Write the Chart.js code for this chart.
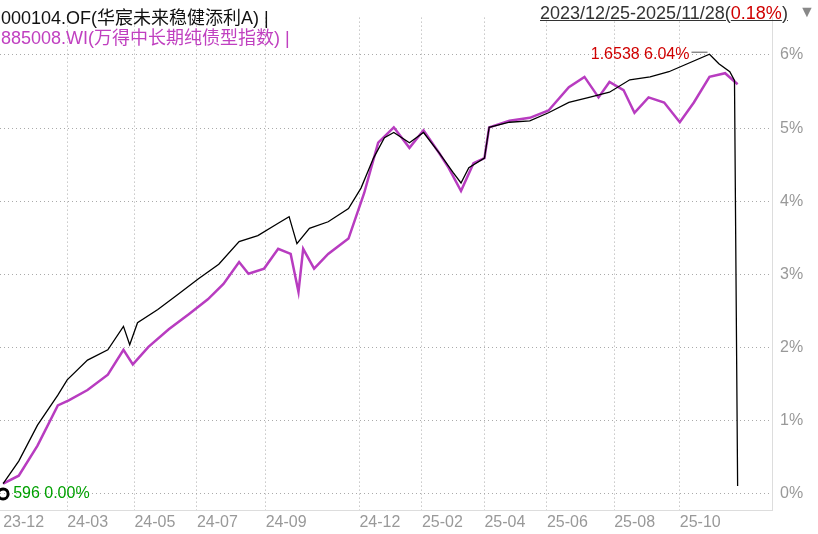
<!DOCTYPE html>
<html>
<head>
<meta charset="utf-8">
<script src="https://cdn.jsdelivr.net/npm/chart.js@4"></script>
<style>
  body { margin: 0; background: #fff; font-family: "Liberation Sans", "Noto Sans CJK SC", sans-serif; }
  #wrap { position: relative; width: 818px; height: 534px; }
  .lbl { position: absolute; font-size: 18px; white-space: nowrap; }
</style>
</head>
<body>
<div id="wrap">
  <canvas id="c" width="818" height="534"></canvas>
  <div class="lbl" style="left:1px;top:3px;color:#111">000104.OF(华宸未来稳健添利A) |</div>
  <div class="lbl" style="left:1px;top:23px;color:#c040c0">885008.WI(万得中长期纯债型指数) |</div>
  <div class="lbl" style="left:540px;top:3px;color:#333;text-decoration:underline">2023/12/25-2025/11/28(<span style="color:#d00000">0.18%</span>)</div>
  <div class="lbl" style="left:799px;top:3px;color:#888;font-size:16px">▼</div>
</div>
<script>
// x = trading day index from 2023-12-25
const tickIdx = [0, 41, 84, 124, 168, 228, 268, 308, 348, 391, 433];
const tickLabels = ["23-12", "24-03", "24-05", "24-07", "24-09", "24-12", "25-02", "25-04", "25-06", "25-08", "25-10"];

const fundIdx = [0, 10, 22, 35, 41, 54, 67, 77, 81, 86, 99, 112, 125, 138, 151, 163, 176, 183, 188, 196, 208, 221, 229, 237, 244, 250, 260, 269, 279, 288, 293, 298, 308, 311, 324, 337, 349, 362, 375, 388, 401, 414, 426, 452, 458, 465, 468, 470];
const fundVals = [0.14, 0.45, 0.94, 1.35, 1.56, 1.83, 1.97, 2.29, 2.04, 2.34, 2.52, 2.73, 2.94, 3.14, 3.45, 3.53, 3.70, 3.79, 3.42, 3.63, 3.72, 3.90, 4.18, 4.59, 4.87, 4.94, 4.80, 4.94, 4.66, 4.39, 4.25, 4.46, 4.59, 5.01, 5.08, 5.10, 5.21, 5.35, 5.42, 5.49, 5.66, 5.70, 5.77, 6.01, 5.88, 5.77, 5.65, 0.11];

const indexIdx = [0, 10, 22, 35, 42, 54, 67, 77, 83, 93, 106, 119, 131, 141, 151, 157, 167, 176, 184, 189, 192, 199, 208, 221, 231, 240, 250, 260, 269, 279, 285, 293, 301, 308, 311, 324, 337, 349, 362, 372, 381, 388, 397, 404, 413, 423, 433, 442, 452, 462, 470];
const indexVals = [0.14, 0.25, 0.66, 1.21, 1.28, 1.42, 1.63, 1.97, 1.77, 2.01, 2.25, 2.46, 2.66, 2.87, 3.17, 3.01, 3.08, 3.35, 3.28, 2.76, 3.35, 3.08, 3.28, 3.49, 4.11, 4.80, 5.01, 4.73, 4.97, 4.66, 4.46, 4.14, 4.52, 4.59, 5.01, 5.10, 5.14, 5.24, 5.56, 5.70, 5.42, 5.63, 5.52, 5.21, 5.42, 5.35, 5.08, 5.35, 5.70, 5.75, 5.60];

const toPts = (xs, ys) => xs.map((x, i) => ({ x: x, y: ys[i] }));

const marks = {
  id: "marks",
  afterDatasetsDraw(chart) {
    const { ctx, scales: { x, y } } = chart;
    ctx.save();
    ctx.font = "16px 'Liberation Sans', sans-serif";
    ctx.textBaseline = "middle";
    const mx = x.getPixelForValue(452), my = y.getPixelForValue(6.01);
    ctx.fillStyle = "#d00000";
    ctx.textAlign = "right";
    ctx.fillText("1.6538 6.04%", mx - 20, my);
    ctx.strokeStyle = "#555";
    ctx.lineWidth = 1;
    ctx.beginPath();
    ctx.moveTo(mx - 18, my - 2);
    ctx.lineTo(mx - 2, my - 2);
    ctx.stroke();
    const ox = x.getPixelForValue(0), oy = y.getPixelForValue(0);
    ctx.fillStyle = "#00a000";
    ctx.textAlign = "left";
    ctx.fillText("596 0.00%", ox + 10, oy);
    ctx.lineWidth = 3;
    ctx.strokeStyle = "#000";
    ctx.beginPath();
    ctx.arc(ox, oy, 5, 0, Math.PI * 2);
    ctx.stroke();
    ctx.restore();
  }
};

new Chart(document.getElementById("c").getContext("2d"), {
  type: "line",
  data: {
    datasets: [
      {
        label: "000104.OF",
        data: toPts(fundIdx, fundVals),
        borderColor: "#000",
        borderWidth: 1.3,
        pointRadius: 0,
        tension: 0,
      },
      {
        label: "885008.WI",
        data: toPts(indexIdx, indexVals),
        borderColor: "#b83cc0",
        borderWidth: 2.5,
        pointRadius: 0,
        tension: 0,
      },
    ],
  },
  options: {
    responsive: false,
    animation: false,
    layout: { padding: 0 },
    plugins: { legend: { display: false }, tooltip: { enabled: false } },
    scales: {
      x: {
        type: "linear",
        min: -2,
        max: 492,
        afterBuildTicks: (axis) => { axis.ticks = tickIdx.map(v => ({ value: v })); },
        ticks: {
          autoSkip: false,
          maxRotation: 0,
          color: "#999",
          padding: 2,
          font: { size: 16, family: "'Liberation Sans', sans-serif" },
          align: "start",
          callback: (v, i) => tickLabels[i],
        },
        grid: { color: (c) => c.index === 0 ? "rgba(0,0,0,0)" : "#aaa", drawTicks: false },
        border: { dash: [1, 3], color: "#ddd" },
      },
      y: {
        position: "right",
        min: -0.23,
        max: 6.51,
        afterBuildTicks: (axis) => { axis.ticks = [0, 1, 2, 3, 4, 5, 6].map(v => ({ value: v })); },
        ticks: {
          color: "#999",
          font: { size: 16, family: "'Liberation Sans', sans-serif" },
          padding: 8,
          callback: (v) => v + "%",
        },
        grid: { color: "#aaa", drawTicks: false },
        border: { display: true, color: "#ddd", dash: [1, 3] },
        afterFit: (axis) => { axis.width = 46; },
      },
    },
  },
  plugins: [marks],
});
</script>
</body>
</html>
